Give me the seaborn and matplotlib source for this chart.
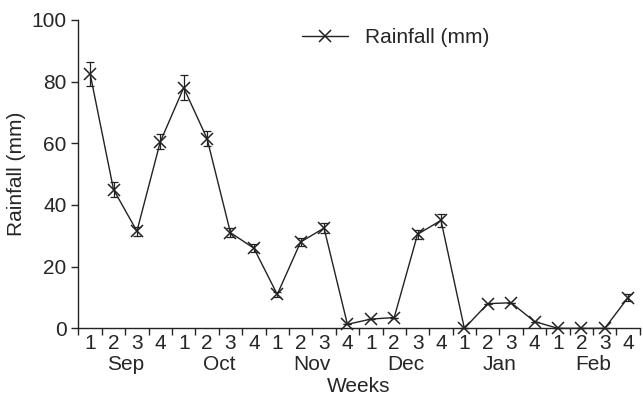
import numpy as np
import pandas as pd
import matplotlib
matplotlib.use('Agg')
import matplotlib.pyplot as plt
import matplotlib.transforms as mtransforms
import seaborn as sns

# ---------- DATA ----------
months = ['Sep', 'Oct', 'Nov', 'Dec', 'Jan', 'Feb']
weeks = ['1', '2', '3', '4']
rainfall = [82.5, 45, 31.5, 60.5, 78, 61.5, 31, 26, 11, 28, 32.5, 1.3,
            3, 3.5, 30.5, 35, 0, 8, 8.3, 2.2, 0, 0, 0, 10]
rain_err = [4, 2.5, 1.5, 2.5, 4, 2.5, 1.5, 1.2, 0.8, 1.2, 1.5, 0,
            0, 0, 1.5, 2, 0, 0, 0, 0, 0, 0, 0, 1]

df = pd.DataFrame({
    'pos': np.arange(len(rainfall)),
    'Rainfall (mm)': rainfall,
    'err': rain_err,
})

# ---------- PLOT ----------
sns.set_style('ticks')
plt.rcParams['font.family'] = ['Liberation Sans', 'DejaVu Sans']
INK = '#222222'

fig, ax = plt.subplots(figsize=(6.43, 3.98), dpi=100)
fig.subplots_adjust(left=0.122, right=0.995, top=0.95, bottom=0.175)

ax.errorbar(df['pos'], df['Rainfall (mm)'], yerr=df['err'], fmt='none',
            ecolor=INK, elinewidth=0.9, capsize=3, capthick=0.9, zorder=2)
sns.lineplot(data=df, x='pos', y='Rainfall (mm)', ax=ax, color=INK,
             marker='x', markersize=8, markeredgewidth=1.1, markeredgecolor=INK,
             linewidth=1.0, label='Rainfall (mm)', zorder=3)
# keep markers sitting on the zero line fully visible
for ln in ax.lines:
    ln.set_clip_on(False)

ax.set_xlim(-0.5, len(rainfall) - 0.5)
ax.set_ylim(0, 100)
ax.set_yticks([0, 20, 40, 60, 80, 100])

ax.set_xticks(df['pos'])
ax.set_xticklabels(weeks * len(months))
ax.set_xticks(np.arange(-0.5, len(rainfall), 1), minor=True)
ax.tick_params(axis='x', which='major', length=0, pad=4, labelsize=15)
ax.tick_params(axis='x', which='minor', length=5, width=1, direction='out')
ax.tick_params(axis='y', length=5, width=1, labelsize=15)

trans = mtransforms.blended_transform_factory(ax.transData, ax.transAxes)
for i, m in enumerate(months):
    ax.text(i * 4 + 1.5, -0.117, m, transform=trans, ha='center', va='center', fontsize=15)

ax.set_xlabel('')
ax.text(0.5, -0.19, 'Weeks', transform=ax.transAxes, ha='center', va='center', fontsize=15)
ax.set_ylabel('Rainfall (mm)', fontsize=15)

for s in ['left', 'bottom']:
    ax.spines[s].set_linewidth(1.0)
    ax.spines[s].set_color(INK)
sns.despine(ax=ax)

ax.legend(loc='upper center', bbox_to_anchor=(0.565, 1.035), frameon=False,
          fontsize=15, handlelength=2.2)

fig.savefig('out.png', dpi=100)
